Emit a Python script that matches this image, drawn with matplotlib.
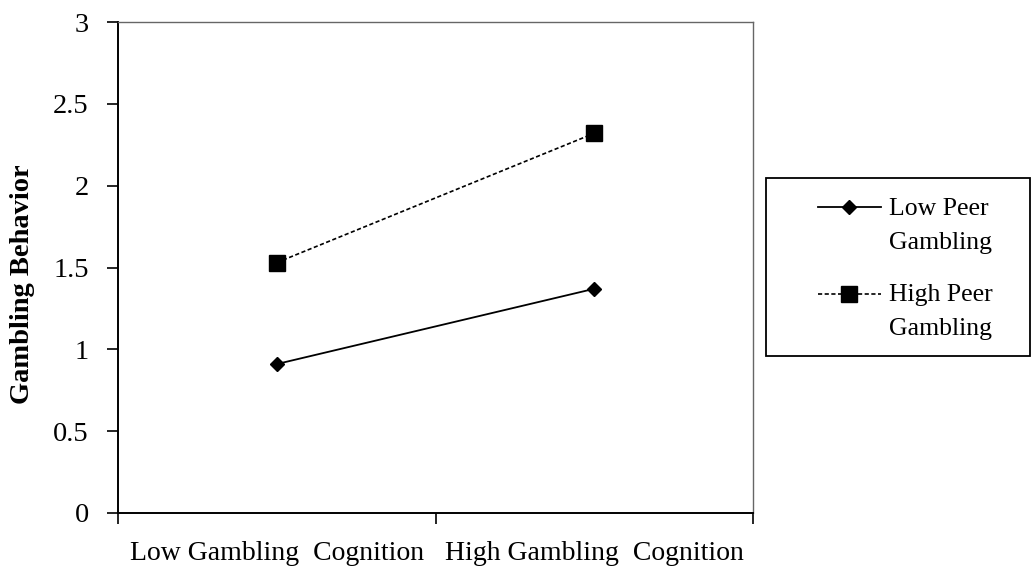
import matplotlib.pyplot as plt
from matplotlib.legend_handler import HandlerLine2D
from matplotlib.patches import Rectangle

# ---------------------------------------------
# Data
# ---------------------------------------------
categories = ["Low Gambling  Cognition", "High Gambling  Cognition"]
low_peer = [0.91, 1.37]
high_peer = [1.53, 2.32]
y_ticks = [0, 0.5, 1, 1.5, 2, 2.5, 3]
y_tick_labels = ["0", "0.5", "1", "1.5", "2", "2.5", "3"]
series_labels = ["Low Peer\nGambling", "High Peer\nGambling"]

plt.rcParams["font.family"] = ["Liberation Serif", "DejaVu Serif"]


# legend handle that sits on the first line of a two-line label
class TopLineHandler(HandlerLine2D):
    def __init__(self, shift, **kw):
        super().__init__(**kw)
        self.shift = shift

    def create_artists(self, legend, orig_handle, xdescent, ydescent,
                       width, height, fontsize, trans):
        return super().create_artists(legend, orig_handle, xdescent,
                                      ydescent - 2 * self.shift, width, height,
                                      fontsize, trans)


# ---------------------------------------------
# Figure
# ---------------------------------------------
fig = plt.figure(figsize=(10.31, 5.68), dpi=100)
ax = fig.add_axes([118 / 1031, 1 - 513 / 568, (753 - 118) / 1031, (513 - 22) / 568])

x_pos = [0.5, 1.5]
ln1, = ax.plot(x_pos, low_peer, color="black", lw=1.3, marker="D", markersize=7.5,
               label=series_labels[0])
ln2, = ax.plot(x_pos, high_peer, color="black", lw=1.2, linestyle=(0, (2.5, 1.5)),
               marker="s", markersize=11, label=series_labels[1])

ax.set_xlim(0, 2)
ax.set_ylim(0, 3)
ax.set_yticks(y_ticks)
ax.set_yticklabels(y_tick_labels, fontsize=20.5)

# category labels sit between the boundary ticks, Excel style
ax.set_xticks([0, 1, 2])
ax.set_xticklabels([])
for xp, lab in zip(x_pos, categories):
    ax.text(xp, -(553 - 513) / 491, lab, ha="center", va="center", fontsize=20,
            transform=ax.get_xaxis_transform())

ax.tick_params(axis="both", direction="out", length=8, width=1.2, colors="black")
ax.tick_params(axis="y", pad=13)

for side in ["left", "bottom"]:
    ax.spines[side].set_linewidth(1.4)
    ax.spines[side].set_color("black")
for side in ["top", "right"]:
    ax.spines[side].set_linewidth(1.0)
    ax.spines[side].set_color("#666666")

fig.text(23 / 1031, 1 - 284 / 568, "Gambling Behavior", rotation=90, ha="center",
         va="center", fontsize=20.5, fontweight="bold")

# ---------------------------------------------
# Legend
# ---------------------------------------------
fig.patches.append(Rectangle((766 / 1031, 1 - 356 / 568), 264 / 1031, 178 / 568,
                             transform=fig.transFigure, fill=False,
                             edgecolor="black", linewidth=1.3))

shift = 13
leg = fig.legend(handles=[ln1, ln2], loc="upper left",
                 bbox_to_anchor=(818 / 1031, 1 - 198 / 568),
                 frameon=False, fontsize=18.5,
                 handlelength=2.45, labelspacing=1.2, borderpad=0,
                 handletextpad=0.3, borderaxespad=0,
                 handler_map={ln1: TopLineHandler(shift),
                              ln2: TopLineHandler(shift)})
for t in leg.get_texts():
    t.set_linespacing(1.68)

plt.savefig("out.png", dpi=100)
